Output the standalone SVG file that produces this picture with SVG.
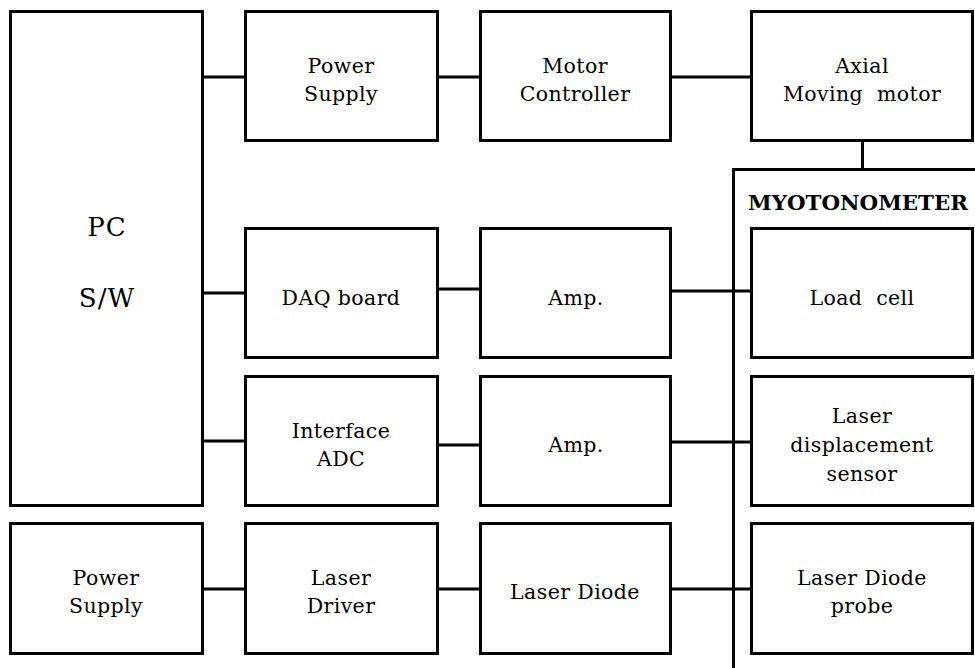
<svg xmlns="http://www.w3.org/2000/svg" width="975" height="668" viewBox="0 0 975 668">
<style>
.box{fill:#fff;stroke:#000;stroke-width:3}
.ln{fill:none;stroke:#000;stroke-width:3}
text{font-family:"DejaVu Serif","Liberation Serif",serif;font-size:20.5px;fill:#000;text-anchor:middle;letter-spacing:0.4px}
.big{font-size:26px;letter-spacing:1px}
.ttl{font-weight:bold;text-anchor:start;letter-spacing:0}
</style>
<rect width="975" height="668" fill="#fff"/>
<g id="myotonometer">
<path class="ln" d="M733.5,668 V169.5 H980"/>
<text class="ttl" x="748" y="210" textLength="220" lengthAdjust="spacingAndGlyphs">MYOTONOMETER</text>
</g>
<g id="connectors">
<path class="ln" d="M202.5,77 H245.5 M437.5,77 H480.5 M670.5,77 H751.5 M862.5,140.5 V169.5"/>
<path class="ln" d="M202.5,293 H245.5 M437.5,289 H480.5 M670.5,291 H751.5"/>
<path class="ln" d="M202.5,441 H245.5 M437.5,445 H480.5 M670.5,442 H751.5"/>
<path class="ln" d="M202.5,589 H245.5 M437.5,589 H480.5 M670.5,589 H751.5"/>
</g>
<g id="pc"><rect class="box" x="10.5" y="11.5" width="192" height="494"/><text class="big" x="107" y="236">PC</text><text class="big" x="107" y="307">S/W</text></g>
<g id="power-supply-1"><rect class="box" x="245.5" y="11.5" width="192" height="129"/><text x="341" y="73">Power</text><text x="341" y="101">Supply</text></g>
<g id="motor-controller"><rect class="box" x="480.5" y="11.5" width="190" height="129"/><text x="575" y="73">Motor</text><text x="575" y="101">Controller</text></g>
<g id="axial-motor"><rect class="box" x="751.5" y="11.5" width="221" height="129"/><text x="862" y="73">Axial</text><text x="862" y="101" xml:space="preserve">Moving  motor</text></g>
<g id="daq-board"><rect class="box" x="245.5" y="228.5" width="192" height="129"/><text x="341" y="305">DAQ board</text></g>
<g id="amp-1"><rect class="box" x="480.5" y="228.5" width="190" height="129"/><text x="576" y="305">Amp.</text></g>
<g id="load-cell"><rect class="box" x="751.5" y="228.5" width="221" height="129"/><text x="862" y="305" xml:space="preserve">Load  cell</text></g>
<g id="interface-adc"><rect class="box" x="245.5" y="376.5" width="192" height="129"/><text x="341" y="438">Interface</text><text x="341" y="466">ADC</text></g>
<g id="amp-2"><rect class="box" x="480.5" y="376.5" width="190" height="129"/><text x="576" y="452">Amp.</text></g>
<g id="laser-displacement"><rect class="box" x="751.5" y="376.5" width="221" height="129"/><text x="862" y="423">Laser</text><text x="862" y="452">displacement</text><text x="862" y="481">sensor</text></g>
<g id="power-supply-2"><rect class="box" x="10.5" y="523.5" width="192" height="130"/><text x="106" y="585">Power</text><text x="106" y="613">Supply</text></g>
<g id="laser-driver"><rect class="box" x="245.5" y="523.5" width="192" height="130"/><text x="341" y="585">Laser</text><text x="341" y="613">Driver</text></g>
<g id="laser-diode"><rect class="box" x="480.5" y="523.5" width="190" height="130"/><text x="575" y="599">Laser Diode</text></g>
<g id="laser-diode-probe"><rect class="box" x="751.5" y="523.5" width="221" height="130"/><text x="862" y="585">Laser Diode</text><text x="862" y="613">probe</text></g>
</svg>
